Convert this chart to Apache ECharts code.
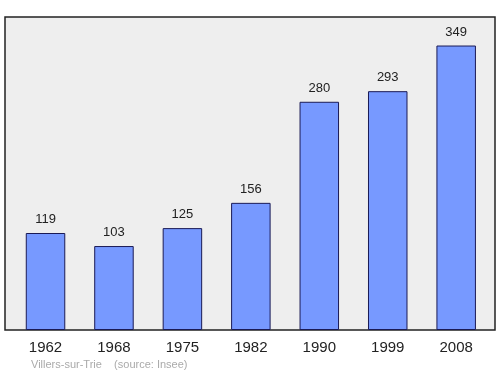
<!DOCTYPE html>
<html><head><meta charset="utf-8">
<script src="https://cdn.jsdelivr.net/npm/echarts@6/dist/echarts.min.js"></script>
<style>html,body{margin:0;padding:0;background:#fff}#c{width:500px;height:374px}</style>
</head><body><div id="c"></div>
<script>
var categories = ['1962','1968','1975','1982','1990','1999','2008'];
var population = [119,103,125,156,280,293,349];
var footnote = 'Villers-sur-Trie    (source: Insee)';
var chart = echarts.init(document.getElementById('c'));
chart.setOption({
  animation:false,
  grid:{left:11.3,right:9.6,top:17,bottom:44},
  xAxis:{type:'category',data:categories,axisLine:{show:false},axisTick:{show:false},
    axisLabel:{color:'#222',fontSize:15,fontFamily:'Liberation Sans, Arial, sans-serif',margin:10}},
  yAxis:{type:'value',min:0,max:384,show:false,splitLine:{show:false}},
  series:[{type:'bar',data:population,barWidth:39.5,z:5,
    itemStyle:{color:'#7799ff',borderColor:'#1a1a55',borderWidth:1},
    label:{show:true,position:'top',distance:7,color:'#222',fontSize:13,fontFamily:'Liberation Sans, Arial, sans-serif'}}],
  graphic:[
    {type:'rect',z:-10,shape:{x:5,y:17,width:490,height:313},style:{fill:'#eeeeee',stroke:'#222',lineWidth:1.5}},
    {type:'text',left:31,top:359,style:{text:footnote,fill:'#aaaaaa',fontSize:11,fontFamily:'Liberation Sans, Arial, sans-serif'}}]
});
</script></body></html>
